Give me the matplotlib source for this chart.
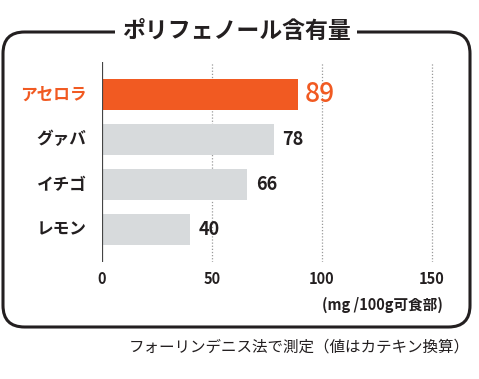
import matplotlib
matplotlib.use("Agg")
import matplotlib.pyplot as plt
from matplotlib.patches import FancyBboxPatch

plt.rcParams['font.family'] = ['Noto Sans CJK JP', 'DejaVu Sans']

# データ
kudamono = ['アセロラ', 'グァバ', 'イチゴ', 'レモン']
polyphenol = [89, 78, 66, 40]
x_ticks = [0, 50, 100, 150]

orange = '#F15A22'
gray = '#D7DADC'
ink = '#231F20'

W, H = 479, 379
fig = plt.figure(figsize=(W / 100, H / 100), dpi=100)

# 軸の位置（ピクセル換算）
left, right, top, bottom = 102, 450, 62, 262
ax = fig.add_axes([left / W, 1 - bottom / H, (right - left) / W, (bottom - top) / H])

colors = [orange] + [gray] * (len(kudamono) - 1)
ypos = range(len(kudamono))
ax.barh(ypos, polyphenol, height=0.69, color=colors, zorder=2)

ax.set_xlim(0, (right - left) / 2.2)
ax.set_ylim(3.722, -0.722)

for x in x_ticks[1:]:
    ax.axvline(x, color='#9A9A9A', lw=0.9, ls=(0, (1, 1.5)), zorder=1)
ax.axvline(0, color='#444444', lw=1.6, zorder=3)

for sp in ax.spines.values():
    sp.set_visible(False)
ax.set_xticks([])
ax.set_yticks([])

# ラベル
for i, (name, v) in enumerate(zip(kudamono, polyphenol)):
    c = orange if i == 0 else ink
    ax.text(-7, i, name, ha='right', va='center', fontsize=12,
            fontweight='bold', color=c)
    if i == 0:
        ax.text(v + 3, i, str(v), ha='left', va='center', fontsize=19,
                fontweight='medium', color=orange)
    else:
        ax.text(v + 4, i, str(v), ha='left', va='center', fontsize=13,
                fontweight='bold', color=ink)

for x in x_ticks:
    ax.text(x, 4.1, str(x), ha='center', va='center', fontsize=10.5,
            fontweight='bold', color=ink)

fig.text(443 / W, 1 - 305 / H, '(mg /100g可食部)', ha='right', va='center',
         fontsize=10.5, fontweight='bold', color=ink)

# 枠とタイトル
box = FancyBboxPatch((3 / W, 1 - 327 / H), 467 / W, 295 / H,
                     boxstyle='round,pad=0,rounding_size=0.045',
                     transform=fig.transFigure, fill=False,
                     ec=ink, lw=2.2, mutation_aspect=W / H)
fig.patches.append(box)

fig.text(236 / W, 1 - 31 / H, 'ポリフェノール含有量', ha='center', va='center',
         fontsize=16.5, fontweight='bold', color=ink,
         bbox=dict(facecolor='white', edgecolor='none', pad=5))

fig.text(470 / W, 1 - 347 / H, 'フォーリンデニス法で測定（値はカテキン換算）',
         ha='right', va='center', fontsize=11.2, color=ink)

fig.savefig('out.png', dpi=100)
